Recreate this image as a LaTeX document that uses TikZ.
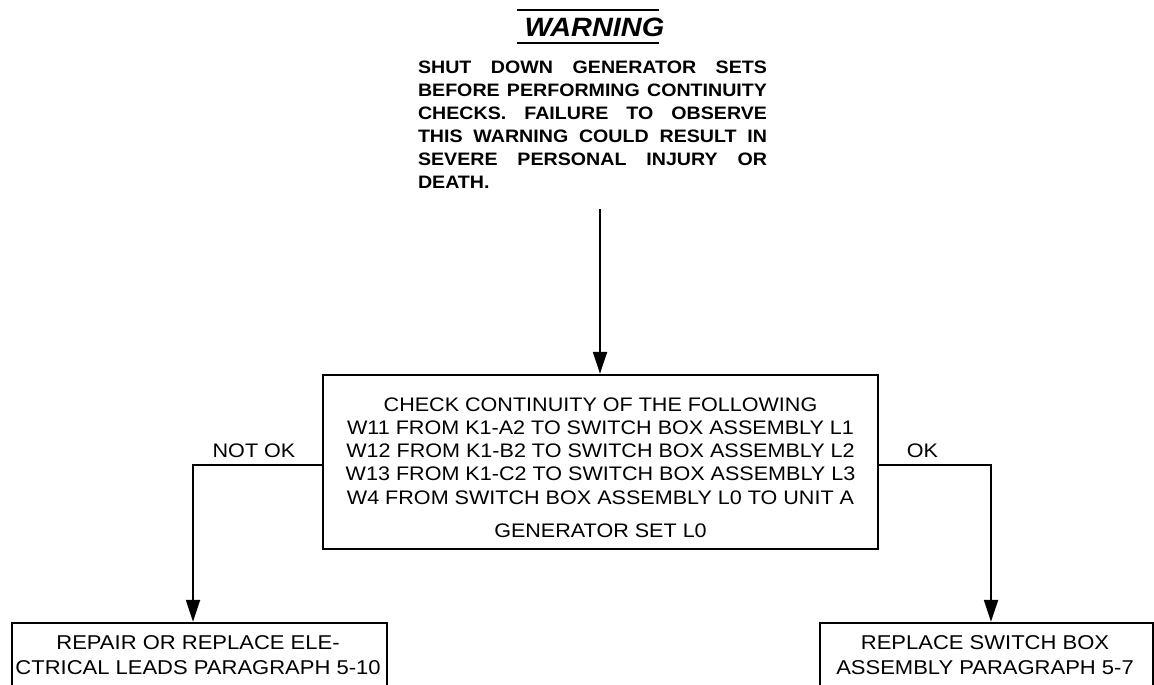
\documentclass[tikz,border=0pt]{standalone}
\usepackage{fontspec}
\setmainfont{Liberation Sans}
\newfontfamily\regf{Liberation Sans}[FakeStretch=1.1]
\newfontfamily\wf{Liberation Sans}[FakeStretch=1.09]
\usetikzlibrary{arrows.meta}
\tikzset{
  box/.style={draw, line width=2.4pt, inner sep=0pt},
  conn/.style={line width=2.2pt},
  arr/.style={conn, -{Triangle[length=22pt,width=14pt]}},
  plain/.style={inner sep=0pt, outer sep=0pt},
  lbl/.style={plain, anchor=base, font=\regf\fontsize{19.6}{23.3}\selectfont},
  rule/.style={line width=2pt},
}
\begin{document}
\begin{tikzpicture}[x=1pt,y=-1pt]
\useasboundingbox (0,0) rectangle (1154,685);
% title
\node[plain, anchor=base, font=\wf\bfseries\itshape\fontsize{26.5}{30}\selectfont] (title) at (594.5,37) {WARNING};
\draw[rule] (517,10) -- (659,10);
\draw[rule] (517,43) -- (659,43);
% warning text
\node[plain, anchor=base west] (warn) at (418,74) {\parbox[t]{349pt}{\wf\bfseries\fontsize{18}{23}\selectfont
\parindent=0pt\hyphenpenalty=10000\exhyphenpenalty=10000
SHUT DOWN GENERATOR SETS\linebreak
BEFORE PERFORMING CONTINUITY\linebreak
CHECKS. FAILURE TO OBSERVE\linebreak
THIS WARNING COULD RESULT IN\linebreak
SEVERE PERSONAL INJURY OR\linebreak
DEATH.}};
% main box
\node[box, minimum width=555pt, minimum height=174pt] (check) at (600.5,462) {};
\node[plain, anchor=base] (checktxt) at (600.5,411) {\parbox[t]{550pt}{\centering\regf\fontsize{19.6}{23.3}\selectfont
CHECK CONTINUITY OF THE FOLLOWING\\
W11 FROM K1-A2 TO SWITCH BOX ASSEMBLY L1\\
W12 FROM K1-B2 TO SWITCH BOX ASSEMBLY L2\\
W13 FROM K1-C2 TO SWITCH BOX ASSEMBLY L3\\
W4 FROM SWITCH BOX ASSEMBLY L0 TO UNIT A\\[9.5pt]
GENERATOR SET L0}};
% bottom boxes
\node[box, minimum width=375pt, minimum height=64pt] (repair) at (199.5,655) {};
\node[plain, anchor=base] (repairtxt) at (198,649) {\parbox[t]{380pt}{\centering\regf\fontsize{20}{25}\selectfont
REPAIR OR REPLACE ELE-\\
CTRICAL LEADS PARAGRAPH 5-10}};
\node[box, minimum width=333pt, minimum height=64pt] (replace) at (986.5,655) {};
\node[plain, anchor=base] (replacetxt) at (985,649) {\parbox[t]{330pt}{\centering\regf\fontsize{20}{25}\selectfont
REPLACE SWITCH BOX\\
ASSEMBLY PARAGRAPH 5-7}};
% connectors
\coordinate (wstart) at (600,209);
\draw[arr] (wstart) -- (wstart |- check.north);
\coordinate (nl) at (193,465);
\draw[arr] (check.west |- nl) -- (nl) -- (nl |- repair.north);
\coordinate (okc) at (991,465);
\draw[arr] (check.east |- okc) -- (okc) -- (okc |- replace.north);
% labels
\node[lbl] (notok) at (254,457) {NOT OK};
\node[lbl] (oklbl) at (922.5,457) {OK};
\end{tikzpicture}
\end{document}
